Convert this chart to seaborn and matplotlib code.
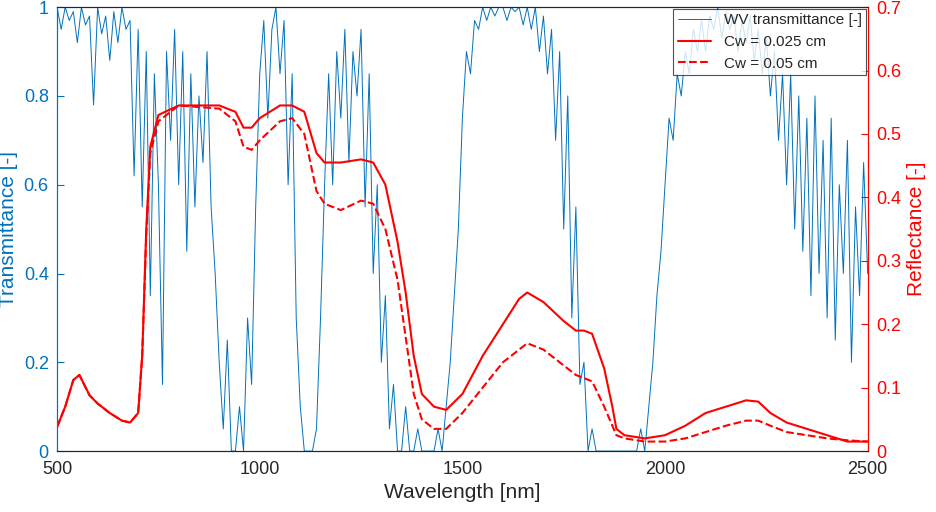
import numpy as np
import pandas as pd
import matplotlib
matplotlib.use("Agg")
import matplotlib.pyplot as plt
import seaborn as sns

# --- Data ---
trans_wl = list(range(500, 2501, 10))
trans = [
    1, 0.95, 1, 0.97, 0.99, 0.92, 1, 0.96, 0.98, 0.78, 1, 0.94, 0.98, 0.88, 0.99, 0.92, 1, 0.95, 0.97, 0.62,
    0.95, 0.55, 0.9, 0.35, 0.85, 0.6, 0.15, 0.9, 0.7, 0.95,
    0.6, 0.9, 0.45, 0.85, 0.55, 0.8, 0.65, 0.9, 0.55, 0.4,
    0.2, 0.05, 0.25, 0.0, 0.0, 0.1, 0.0, 0.3, 0.15, 0.55,
    0.85, 0.97, 0.75, 0.95, 1, 0.85, 0.97, 0.6, 0.85, 0.3,
    0.1, 0.0, 0.0, 0.0, 0.05, 0.3, 0.6, 0.85, 0.6, 0.9,
    0.75, 0.95, 0.65, 0.9, 0.8, 0.95, 0.55, 0.85, 0.4, 0.6,
    0.2, 0.35, 0.05, 0.15, 0.0, 0.0, 0.1, 0.0, 0.0, 0.05,
    0.0, 0.0, 0.0, 0.0, 0.05, 0.0, 0.1, 0.2, 0.35, 0.5,
    0.75, 0.9, 0.85, 0.97, 0.95, 1, 0.97, 1, 0.98, 1,
    1, 0.97, 1, 0.99, 1, 0.96, 1, 0.95, 1, 0.9,
    0.98, 0.85, 0.95, 0.7, 0.9, 0.5, 0.8, 0.3, 0.55, 0.15,
    0.2, 0.0, 0.05, 0.0, 0.0, 0.0, 0.0, 0.0, 0.0, 0.0,
    0.0, 0.0, 0.0, 0.0, 0.05, 0.0, 0.1, 0.2, 0.35, 0.45,
    0.6, 0.75, 0.7, 0.85, 0.8, 0.9, 0.85, 0.95, 0.9, 0.97,
    0.9, 0.98, 0.95, 1, 0.93, 0.99, 0.95, 0.98, 0.9, 0.97,
    0.92, 0.98, 0.88, 0.95, 0.85, 0.93, 0.8, 0.9, 0.7, 0.85,
    0.6, 0.85, 0.5, 0.8, 0.45, 0.75, 0.35, 0.8, 0.4, 0.7,
    0.3, 0.75, 0.25, 0.6, 0.4, 0.7, 0.2, 0.55, 0.35, 0.65, 0.4,
]

refl_wl = [500, 520, 540, 555, 580, 600, 630, 660, 680, 700, 710, 720, 730, 750, 800, 900, 940, 960,
           980, 1000, 1050, 1080, 1110, 1140, 1160, 1200, 1250, 1280, 1310, 1340, 1360, 1380, 1400,
           1430, 1460, 1500, 1550, 1600, 1640, 1660, 1700, 1750, 1780, 1800, 1820, 1850, 1870, 1880,
           1900, 1950, 2000, 2050, 2100, 2150, 2200, 2230, 2260, 2300, 2350, 2400, 2450, 2500]
refl_025 = [0.038, 0.07, 0.112, 0.12, 0.088, 0.075, 0.06, 0.048, 0.045, 0.06, 0.15, 0.35, 0.48, 0.53,
            0.545, 0.545, 0.535, 0.51, 0.51, 0.525, 0.545, 0.545, 0.535, 0.47, 0.455, 0.455, 0.46,
            0.455, 0.42, 0.33, 0.25, 0.15, 0.09, 0.07, 0.065, 0.09, 0.15, 0.2, 0.24, 0.25, 0.235,
            0.205, 0.19, 0.19, 0.185, 0.13, 0.07, 0.035, 0.025, 0.02, 0.025, 0.04, 0.06, 0.07, 0.08,
            0.078, 0.06, 0.045, 0.035, 0.025, 0.015, 0.015]
refl_05 = [0.038, 0.07, 0.112, 0.12, 0.088, 0.075, 0.06, 0.048, 0.045, 0.06, 0.15, 0.34, 0.47, 0.52,
           0.545, 0.54, 0.52, 0.48, 0.475, 0.49, 0.52, 0.525, 0.5, 0.41, 0.39, 0.38, 0.395, 0.39,
           0.35, 0.27, 0.18, 0.09, 0.05, 0.035, 0.035, 0.06, 0.1, 0.14, 0.16, 0.17, 0.16, 0.135,
           0.12, 0.115, 0.11, 0.07, 0.04, 0.025, 0.02, 0.015, 0.015, 0.02, 0.03, 0.04, 0.048, 0.048,
           0.04, 0.03, 0.025, 0.02, 0.017, 0.015]

BLUE = "#0072BD"
RED = "#FF0000"

sns.set_style("white")
plt.rcParams["font.family"] = ["Arial", "Liberation Sans", "DejaVu Sans"]

fig, ax = plt.subplots(figsize=(9.36, 5.12), dpi=100)
ax2 = ax.twinx()

sns.lineplot(x=trans_wl, y=trans, ax=ax, color=BLUE, lw=0.7, label="WV transmittance [-]", legend=False)
sns.lineplot(x=refl_wl, y=refl_025, ax=ax2, color=RED, lw=1.5, label="Cw = 0.025 cm", legend=False)
sns.lineplot(x=refl_wl, y=refl_05, ax=ax2, color=RED, lw=1.5, ls="--", label="Cw = 0.05 cm", legend=False)

ax.set_xlim(500, 2500)
ax.set_ylim(0, 1)
ax2.set_ylim(0, 0.7)
ax.set_xticks([500, 1000, 1500, 2000, 2500])
ax.set_yticks([0, 0.2, 0.4, 0.6, 0.8, 1])
ax.set_yticklabels(["0", "0.2", "0.4", "0.6", "0.8", "1"])
ax2.set_yticks(np.arange(0, 0.71, 0.1))
ax2.set_yticklabels(["0", "0.1", "0.2", "0.3", "0.4", "0.5", "0.6", "0.7"])

ax.set_xlabel("Wavelength [nm]", fontsize=15)
ax.set_ylabel("Transmittance [-]", fontsize=15, color=BLUE)
ax2.set_ylabel("Reflectance [-]", fontsize=15, color=RED)
ax.tick_params(axis="x", labelsize=13, direction="in", length=5, pad=7)
ax.tick_params(axis="y", labelsize=13, colors=BLUE, direction="in", length=5, pad=6)
ax2.tick_params(axis="y", labelsize=13, colors=RED, direction="in", length=5, pad=6)
ax.spines["left"].set_color(BLUE)
ax2.spines["left"].set_color(BLUE)
ax2.spines["right"].set_color(RED)
for s in ["top", "bottom"]:
    ax2.spines[s].set_color("#262626")

h1, l1 = ax.get_legend_handles_labels()
h2, l2 = ax2.get_legend_handles_labels()
leg = ax2.legend(h1 + h2, l1 + l2, loc="upper right", bbox_to_anchor=(1.0, 1.0), fontsize=11,
                 frameon=True, fancybox=False, edgecolor="#262626", borderpad=0.3,
                 handlelength=2.2, borderaxespad=0.1)
leg.get_frame().set_linewidth(0.8)

fig.subplots_adjust(left=0.061, right=0.927, top=0.986, bottom=0.119)
fig.savefig("out.png", dpi=100)
